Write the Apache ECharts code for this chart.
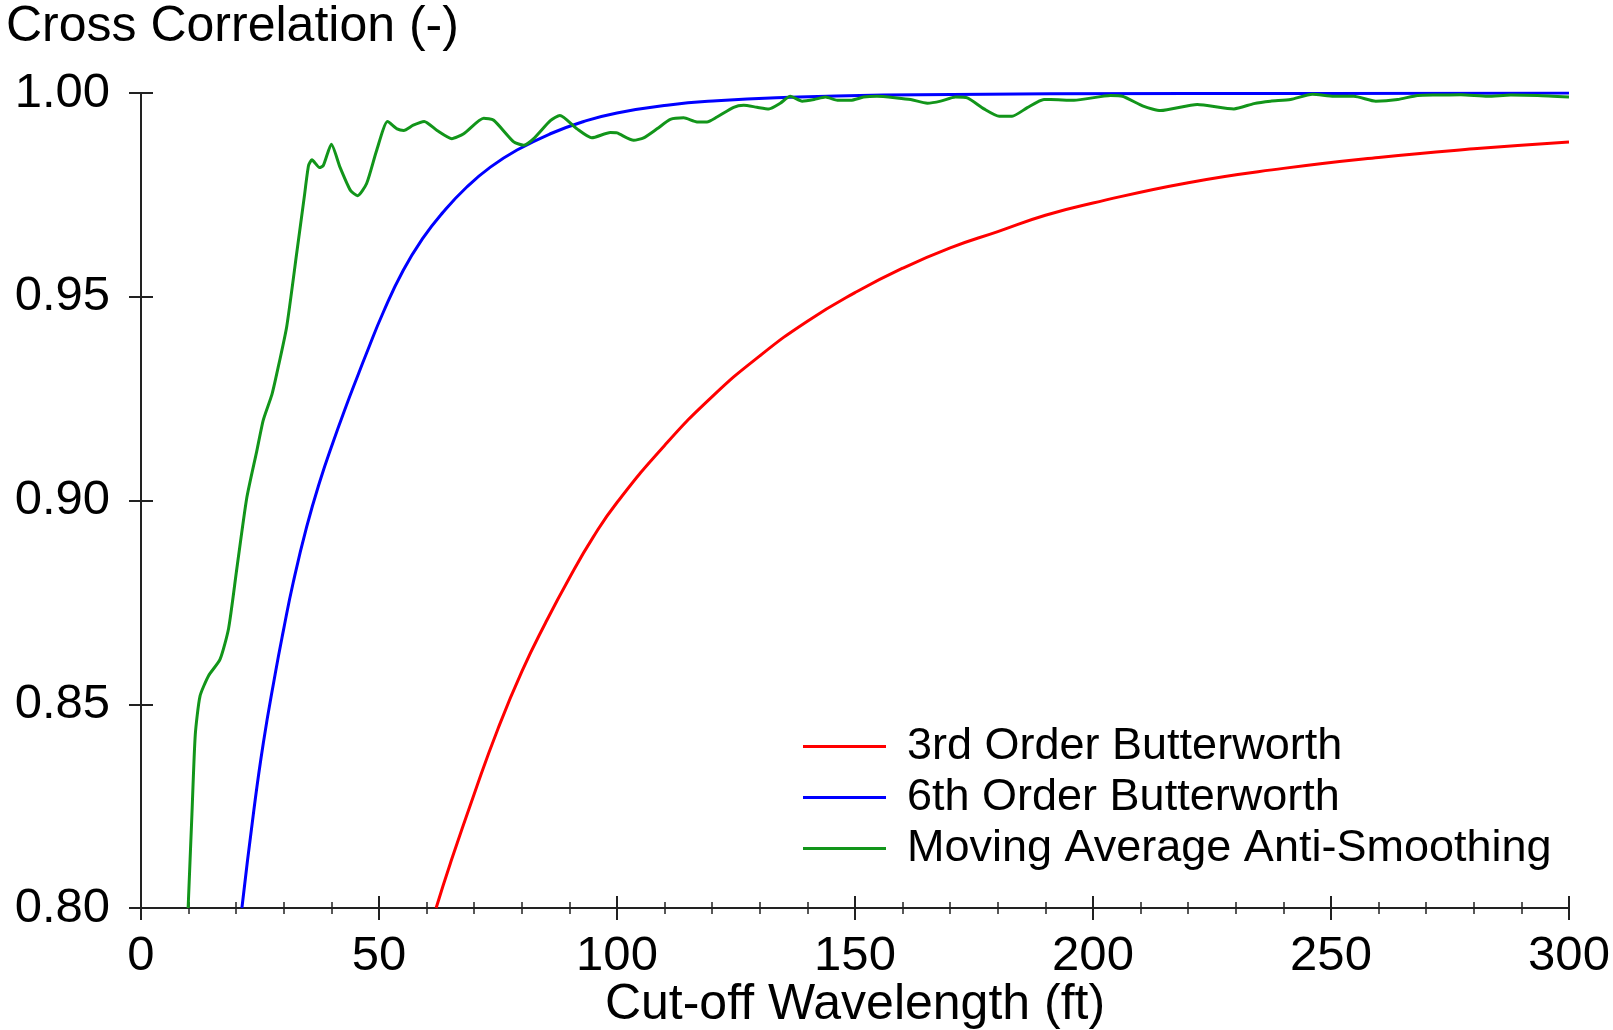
<!DOCTYPE html>
<html>
<head>
<meta charset="utf-8">
<title>Cross Correlation vs Cut-off Wavelength</title>
<script src="https://cdn.jsdelivr.net/npm/echarts@6.0.0/dist/echarts.min.js"></script>
<style>
  html, body { margin: 0; padding: 0; background: #fff; }
  #chart { width: 1613px; height: 1030px; }
</style>
</head>
<body>
<div id="chart"></div>
<script>
// 坐标轴刻度
const xTicks = [0, 50, 100, 150, 200, 250, 300];
const yTicks = [0.80, 0.85, 0.90, 0.95, 1.00];

// 3rd Order Butterworth
const redX = [62, 65, 70, 75, 80, 85, 90, 95, 100, 110, 120, 130, 140, 150, 160, 170, 180, 190, 200, 220, 240, 260, 280, 300];
const redY = [0.800, 0.811, 0.828, 0.844, 0.858, 0.870, 0.881, 0.891, 0.8995, 0.9135, 0.9255, 0.9355, 0.944, 0.951, 0.957, 0.962, 0.966, 0.970, 0.973, 0.978, 0.9815, 0.9842, 0.9863, 0.988];

// 6th Order Butterworth
const blueX = [21.2, 23.6, 25.7, 28.2, 29.9, 32.0, 34.8, 37.6, 40.4, 43.2, 45.0, 47.4, 50.9, 55.1, 59.3, 63.5, 68.5, 73.4, 79.0, 86.0, 93.0, 100, 110.5, 121, 135, 156, 191, 250, 300];
const blueY = [0.800, 0.823, 0.8405, 0.8575, 0.868, 0.880, 0.8935, 0.9048, 0.9145, 0.9235, 0.929, 0.9362, 0.9462, 0.9565, 0.9645, 0.9708, 0.977, 0.9818, 0.986, 0.990, 0.993, 0.9951, 0.997, 0.9981, 0.9989, 0.9995, 0.9998, 0.9999, 1.0];

// Moving Average Anti-Smoothing
const greenX = [9.9, 10.7, 11.4, 12.4, 14.2, 16.6, 18.4, 20.1, 22.2, 24.3, 25.7, 27.5, 28.5, 30.6, 32.7, 34.3, 35.2, 35.9, 37.5, 38.3, 40.0, 41.8, 44.0, 45.5, 47.4, 49.5, 51.8, 53.8, 55.2, 57.2, 59.5, 62.2, 65.3, 67.8, 72.0, 74.1, 78.3, 80.4, 82.5, 86.0, 88.0, 91.6, 94.7, 98.6, 100.0, 103.5, 105.6, 108.4, 111.2, 114.0, 116.8, 118.9, 121.0, 124.5, 126.6, 129.4, 131.9, 134.3, 136.4, 138.9, 141.4, 143.8, 146.3, 149.1, 151.8, 154.6, 158.8, 161.7, 165.2, 168.0, 171.1, 173.6, 177.1, 180.3, 183.0, 186.2, 189.7, 191.1, 196.0, 203.7, 206.2, 210.7, 214.2, 221.9, 229.6, 233.8, 237.3, 241.5, 246.1, 250.6, 254.8, 259.4, 264.0, 268.2, 272.4, 277.3, 282.9, 287.8, 293.4, 300];
const greenY = [0.800, 0.823, 0.8425, 0.852, 0.857, 0.861, 0.8686, 0.883, 0.9005, 0.912, 0.9198, 0.926, 0.931, 0.9426, 0.9606, 0.9745, 0.9822, 0.9836, 0.9817, 0.9822, 0.9874, 0.9818, 0.9761, 0.9748, 0.9778, 0.9859, 0.9930, 0.9912, 0.9908, 0.9921, 0.9930, 0.9908, 0.9888, 0.9900, 0.9938, 0.9933, 0.9880, 0.9872, 0.9888, 0.9932, 0.9945, 0.9912, 0.9890, 0.9903, 0.9902, 0.9884, 0.9890, 0.9912, 0.9935, 0.9939, 0.9929, 0.9929, 0.9941, 0.9965, 0.9970, 0.9965, 0.9961, 0.9975, 0.9992, 0.9980, 0.9984, 0.9990, 0.9982, 0.9982, 0.9990, 0.9992, 0.9988, 0.9984, 0.9975, 0.9980, 0.9990, 0.9988, 0.9961, 0.9943, 0.9943, 0.9964, 0.9984, 0.9984, 0.9982, 0.9994, 0.9992, 0.9967, 0.9957, 0.9972, 0.9961, 0.9974, 0.9980, 0.9984, 0.9997, 0.9992, 0.9992, 0.9980, 0.9984, 0.9994, 0.9995, 0.9996, 0.9992, 0.9995, 0.9994, 0.9990];

const seriesNames = ['3rd Order Butterworth', '6th Order Butterworth', 'Moving Average Anti-Smoothing'];
const seriesColors = ['#ff0000', '#0000ff', '#12951a'];

const FONT = '"Liberation Sans", Arial, sans-serif';
const AXIS_COLOR = '#222';

function pairs(xs, ys) {
  return xs.map((x, i) => [x, ys[i]]);
}

const chart = echarts.init(document.getElementById('chart'), null, { renderer: 'canvas' });

// 两条重叠的轴：一条刻度朝外，一条朝内，做出穿过轴线的刻度
const xBase = {
  type: 'value',
  min: xTicks[0],
  max: xTicks[xTicks.length - 1],
  interval: xTicks[1] - xTicks[0],
  position: 'bottom',
  splitLine: { show: false }
};
const yBase = {
  type: 'value',
  min: yTicks[0],
  max: yTicks[yTicks.length - 1],
  interval: 0.05,
  position: 'left',
  splitLine: { show: false }
};

function lineSeries(i, xs, ys, smooth) {
  return {
    name: seriesNames[i],
    type: 'line',
    data: pairs(xs, ys),
    smooth: smooth,
    symbol: 'none',
    showSymbol: false,
    color: seriesColors[i],
    lineStyle: { width: 3 }
  };
}

const option = {
  animation: false,
  backgroundColor: '#fff',
  title: {
    text: 'Cross Correlation (-)',
    left: 6,
    top: 2,
    padding: 0,
    textStyle: { fontFamily: FONT, fontSize: 50, fontWeight: 'normal', color: '#000' }
  },
  grid: {
    left: 141,
    right: 44,
    top: 93,
    bottom: 122,
    containLabel: false,
    outerBoundsMode: 'none'
  },
  legend: {
    orient: 'vertical',
    left: 798,
    top: 719,
    icon: 'rect',
    itemWidth: 83,
    itemHeight: 3,
    itemGap: 6,
    data: seriesNames,
    textStyle: {
      fontFamily: FONT,
      fontSize: 45,
      lineHeight: 45,
      color: '#000',
      padding: [0, 0, 0, 16]
    }
  },
  xAxis: [
    Object.assign({}, xBase, {
      name: 'Cut-off Wavelength (ft)',
      nameLocation: 'middle',
      nameGap: 72,
      nameMoveOverlap: false,
      nameTextStyle: { fontFamily: FONT, fontSize: 50, color: '#000' },
      axisLine: { show: true, onZero: false, lineStyle: { color: AXIS_COLOR, width: 2 } },
      axisTick: { show: true, inside: false, length: 12, lineStyle: { color: AXIS_COLOR, width: 2 } },
      minorTick: { show: true, splitNumber: 5, length: 6, lineStyle: { color: AXIS_COLOR, width: 1.5 } },
      axisLabel: { fontFamily: FONT, fontSize: 49, color: '#000', margin: 24 }
    }),
    Object.assign({}, xBase, {
      axisLine: { show: false },
      axisTick: { show: true, inside: true, length: 12, lineStyle: { color: AXIS_COLOR, width: 2 } },
      minorTick: { show: true, splitNumber: 5, length: 6, lineStyle: { color: AXIS_COLOR, width: 1.5 } },
      axisLabel: { show: false }
    })
  ],
  yAxis: [
    Object.assign({}, yBase, {
      axisLine: { show: true, onZero: false, lineStyle: { color: AXIS_COLOR, width: 2 } },
      axisTick: { show: true, inside: false, length: 12, lineStyle: { color: AXIS_COLOR, width: 2 } },
      axisLabel: {
        fontFamily: FONT,
        fontSize: 49,
        color: '#000',
        margin: 31,
        formatter: (v) => v.toFixed(2)
      }
    }),
    Object.assign({}, yBase, {
      axisLine: { show: false },
      axisTick: { show: true, inside: true, length: 12, lineStyle: { color: AXIS_COLOR, width: 2 } },
      axisLabel: { show: false }
    })
  ],
  series: [
    lineSeries(0, redX, redY, 0.5),
    lineSeries(1, blueX, blueY, 0.5),
    lineSeries(2, greenX, greenY, 0.2)
  ]
};

chart.setOption(option);
</script>
</body>
</html>
